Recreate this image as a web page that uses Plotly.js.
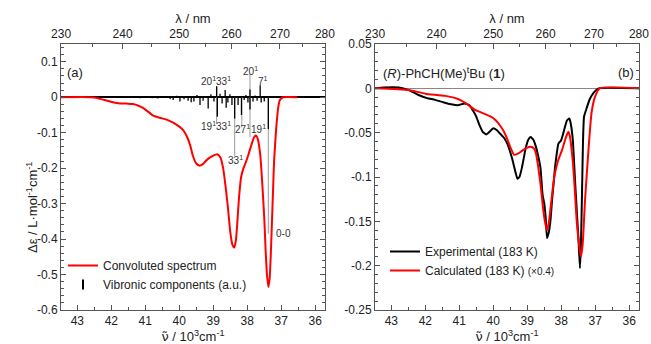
<!DOCTYPE html>
<html><head><meta charset="utf-8">
<script src="https://cdn.plot.ly/plotly-3.0.1.min.js"></script>
<style>body{margin:0;background:#fff}#chart{width:651px;height:344px}</style>
</head><body><div id="chart"></div>
<script>
// ---------- Panel (a): convoluted spectrum (wavenumber in 10^3 cm^-1) ----------
const convNu = [43.48,42.6,42.42,42.2,42.04,41.8,41.55,41.36,41.2,41.07,40.9,40.77,40.57,40.35,40.18,40.0,39.89,39.78,39.68,39.6,39.5,39.4,39.3,39.18,39.0,38.88,38.79,38.71,38.64,38.57,38.5,38.44,38.38,38.33,38.29,38.24,38.18,38.11,38.04,37.96,37.88,37.8,37.75,37.7,37.62,37.56,37.5,37.46,37.42,37.38,37.34,37.31,37.28,37.24,37.21,37.15,37.09,37.04,36.95,36.53];
const convVal = [0,0,-0.002,-0.008,-0.012,-0.017,-0.018,-0.019,-0.024,-0.03,-0.042,-0.052,-0.058,-0.064,-0.072,-0.083,-0.092,-0.11,-0.135,-0.165,-0.187,-0.193,-0.188,-0.176,-0.165,-0.161,-0.17,-0.2,-0.25,-0.31,-0.38,-0.415,-0.424,-0.4,-0.35,-0.28,-0.225,-0.2,-0.183,-0.16,-0.135,-0.113,-0.108,-0.115,-0.16,-0.24,-0.34,-0.43,-0.5,-0.535,-0.51,-0.45,-0.37,-0.26,-0.18,-0.09,-0.03,-0.008,0,0];

// vibronic stick components (a.u.)
const stickNu  = [41.16,40.95,40.80,40.63,40.42,40.27,40.18,40.07,39.98,39.86,39.74,39.65,39.57,39.48,39.39,39.30,39.15,39.07,38.98,38.90,38.88,38.80,38.74,38.65,38.62,38.57,38.51,38.45,38.37,38.27,38.17,38.09,38.04,37.98,37.92,37.92,37.83,37.77,37.71,37.62,37.59,37.50,37.38];
const stickVal = [-0.003,0.002,-0.003,-0.004,0.003,-0.005,-0.008,0.004,-0.012,-0.006,-0.010,-0.014,-0.012,0.006,-0.022,-0.010,-0.032,0.008,-0.012,0.031,-0.055,0.010,-0.018,0.020,-0.030,-0.015,0.008,-0.022,-0.060,-0.022,-0.050,-0.008,0.006,-0.015,0.022,-0.035,-0.012,0.005,-0.010,0.034,-0.015,-0.012,-0.090];

// grey leader lines to the band labels
const leaderNu     = [38.90, 38.37, 38.16, 37.92, 37.38];
const leaderTop    = [0.03, 0, 0, 0.066, 0];
const leaderBottom = [-0.075, -0.166, -0.085, -0.113, -0.385];

const bandLabels   = ['20<sup>1</sup>33<sup>1</sup>','19<sup>1</sup>33<sup>1</sup>','33<sup>1</sup>','27<sup>1</sup>','20<sup>1</sup>','19<sup>1</sup>','7<sup>1</sup>','0-0'];
const bandLabelNu  = [38.92, 38.92, 38.36, 38.13, 37.89, 37.66, 37.55, 36.92];
const bandLabelVal = [0.047, -0.081, -0.178, -0.089, 0.075, -0.089, 0.047, -0.385];

// ---------- Panel (b): experimental and calculated (x0.4) ----------
const expNu  = [43.48,43.22,42.78,42.49,42.2,41.95,41.71,41.45,41.24,41.04,40.84,40.7,40.6,40.51,40.4,40.31,40.21,40.11,40.0,39.9,39.78,39.68,39.58,39.5,39.44,39.35,39.29,39.23,39.16,39.1,39.05,38.97,38.9,38.82,38.76,38.68,38.61,38.55,38.5,38.46,38.42,38.37,38.32,38.27,38.22,38.18,38.08,38.01,37.95,37.88,37.83,37.76,37.72,37.66,37.59,37.54,37.49,37.45,37.42,37.39,37.36,37.33,37.25,37.16,37.05,36.9,35.71];
const expVal = [0,0.001,0.001,-0.002,-0.0075,-0.011,-0.013,-0.016,-0.018,-0.019,-0.017,-0.019,-0.025,-0.031,-0.042,-0.049,-0.052,-0.049,-0.045,-0.047,-0.052,-0.056,-0.063,-0.072,-0.08,-0.094,-0.102,-0.1,-0.09,-0.078,-0.068,-0.058,-0.055,-0.058,-0.064,-0.076,-0.09,-0.12,-0.13,-0.145,-0.169,-0.163,-0.15,-0.126,-0.105,-0.088,-0.062,-0.059,-0.052,-0.042,-0.036,-0.034,-0.04,-0.058,-0.107,-0.14,-0.172,-0.203,-0.175,-0.12,-0.06,-0.032,-0.022,-0.012,-0.005,0,0];

const calcNu  = [43.48,42.49,42.0,41.42,41.04,40.8,40.55,40.31,40.07,39.93,39.78,39.67,39.58,39.48,39.39,39.29,39.19,39.06,38.9,38.8,38.74,38.68,38.61,38.55,38.49,38.42,38.36,38.3,38.24,38.18,38.08,37.98,37.86,37.79,37.74,37.7,37.66,37.6,37.55,37.48,37.42,37.37,37.3,37.2,37.11,37.01,36.87,35.71];
const calcVal = [0,-0.002,-0.006,-0.0085,-0.012,-0.017,-0.024,-0.028,-0.032,-0.036,-0.043,-0.05,-0.058,-0.068,-0.075,-0.074,-0.0715,-0.068,-0.066,-0.068,-0.074,-0.088,-0.108,-0.13,-0.148,-0.16,-0.15,-0.13,-0.11,-0.095,-0.08,-0.07,-0.055,-0.049,-0.055,-0.068,-0.082,-0.115,-0.147,-0.175,-0.19,-0.176,-0.126,-0.07,-0.028,-0.01,0,0];

// ---------- ticks ----------
const nuTicks      = [43,42,41,40,39,38,37,36];
const nuMinorTicks = [43.5,42.5,41.5,40.5,39.5,38.5,37.5,36.5];
const lambdaTicks  = [230,240,250,260,270,280];
const lambdaMinor  = [235,245,255,265,275];
const yTicksA      = [0.1,0,-0.1,-0.2,-0.3,-0.4,-0.5,-0.6];
const yTicksB      = [0.05,0,-0.05,-0.1,-0.15,-0.2,-0.25];

// ---------- build ----------
const FONT = 'Liberation Sans, Arial, sans-serif';
const xRange = [1e4/230 + 0.002, 1e4/280 - 0.002];

const sx = [], sy = [];
stickNu.forEach((n,i)=>{ sx.push(n,n,null); sy.push(0,stickVal[i],null); });
const lx = [], ly = [];
leaderNu.forEach((n,i)=>{ lx.push(n,n,null); ly.push(leaderTop[i],leaderBottom[i],null); });

const traces = [
  {x:lx, y:ly, xaxis:'x', yaxis:'y', mode:'lines', line:{color:'#9a9a9a', width:1}, showlegend:false, hoverinfo:'skip'},
  {x:sx, y:sy, xaxis:'x', yaxis:'y', mode:'lines', line:{color:'#000', width:1.3}, showlegend:false, hoverinfo:'skip'},
  {x:convNu, y:convVal, xaxis:'x', yaxis:'y', mode:'lines', line:{color:'#ff0000', width:2, shape:'spline', smoothing:0.5}, name:'Convoluted spectrum', legend:'legend', legendrank:1},
  {x:[null], y:[null], xaxis:'x', yaxis:'y', mode:'markers', marker:{symbol:'line-ns-open', size:7, line:{width:2, color:'#000'}, color:'#000'}, name:'Vibronic components (a.u.)', legend:'legend', legendrank:2},
  {x:[null], y:[null], xaxis:'x2', yaxis:'y', mode:'lines', showlegend:false, hoverinfo:'skip'},
  {x:expNu, y:expVal, xaxis:'x3', yaxis:'y2', mode:'lines', line:{color:'#000', width:2, shape:'spline', smoothing:0.4}, name:'Experimental (183 K)', legend:'legend2', legendrank:1},
  {x:calcNu, y:calcVal, xaxis:'x3', yaxis:'y2', mode:'lines', line:{color:'#ff0000', width:2, shape:'spline', smoothing:0.5}, name:'Calculated (183 K) <span style="font-size:10px">(\u00d70.4)</span>', legend:'legend2', legendrank:2},
  {x:[null], y:[null], xaxis:'x4', yaxis:'y2', mode:'lines', showlegend:false, hoverinfo:'skip'}
];

const W = 651, H = 344;
const plotTop = 44, plotBot = 310;
const yDom = [1 - plotBot/H, 1 - plotTop/H];
const axBase = {
  showline:true, linecolor:'#555', linewidth:1, ticks:'inside', ticklen:5, tickwidth:1, tickcolor:'#555',
  showgrid:false, zeroline:false, tickfont:{family:FONT, size:12, color:'#222'}, ticklabeloverflow:'allow'
};
const nuTitle = '<span style="font-family:DejaVu Sans">\u03bd\u0303</span> / 10<sup>3</sup>cm<sup>-1</sup>';
function botX(domain, anchor){
  return Object.assign({}, axBase, {domain, anchor, range:xRange, tickmode:'array', tickvals:nuTicks, ticktext:nuTicks.map(String),
    minor:{tickmode:'array', tickvals:nuMinorTicks, ticks:'inside', ticklen:3, tickcolor:'#555'},
    title:{text:nuTitle, font:{family:FONT, size:13, color:'#222'}, standoff:2}});
}
function topX(over, anchor){
  return Object.assign({}, axBase, {overlaying:over, side:'top', anchor, range:xRange, tickmode:'array',
    tickvals:lambdaTicks.map(l=>1e4/l), ticktext:lambdaTicks.map(String),
    minor:{tickmode:'array', tickvals:lambdaMinor.map(l=>1e4/l), ticks:'inside', ticklen:3, tickcolor:'#555'},
    title:{text:'\u03bb / nm', font:{family:FONT, size:13, color:'#222'}, standoff:0}});
}
function yAx(domain, anchor, range, vals, minorD, zc, zw){
  return Object.assign({}, axBase, {domain, anchor, range, tickmode:'array', tickvals:vals, ticktext:vals.map(String), mirror:'ticks',
    minor:{dtick:minorD, tick0:0, ticks:'inside', ticklen:3, tickcolor:'#555'},
    zeroline:true, zerolinecolor:zc, zerolinewidth:zw});
}

const annFont = {family:FONT, size:10, color:'#333'};
const annotations = bandLabels.map((t,i)=>({text:t, x:bandLabelNu[i], y:bandLabelVal[i], xref:'x', yref:'y', showarrow:false, font:annFont}));
annotations.push(
  {text:'(a)', x:65/W, y:1-63/H, xref:'paper', yref:'paper', xanchor:'left', showarrow:false, font:{family:FONT, size:13, color:'#222'}},
  {text:'(b)', x:636/W, y:1-63/H, xref:'paper', yref:'paper', xanchor:'right', showarrow:false, font:{family:FONT, size:13, color:'#222'}},
  {text:'(<i>R</i>)-PhCH(Me)<sup>t</sup>Bu (<b>1</b>)', x:381/W, y:1-63/H, xref:'paper', yref:'paper', xanchor:'left', showarrow:false, font:{family:FONT, size:13, color:'#222'}},
  {text:'\u0394\u03b5 / L\u00b7mol<sup>-1</sup>cm<sup>-1</sup>', x:22/W, y:1-208/H, xref:'paper', yref:'paper', textangle:-90, showarrow:false, font:{family:FONT, size:13, color:'#222'}}
);

const layout = {
  width:W, height:H, margin:{l:0, r:0, t:0, b:0}, paper_bgcolor:'#fff', plot_bgcolor:'#fff',
  font:{family:FONT, size:12, color:'#222'},
  xaxis: botX([61/W, 325/W], 'y'),
  xaxis2: topX('x', 'y'),
  yaxis: yAx(yDom, 'x', [-0.6, 0.15], yTicksA, 0.02, '#000', 1.5),
  xaxis3: botX([375/W, 639/W], 'y2'),
  xaxis4: topX('x3', 'y2'),
  yaxis2: yAx(yDom, 'x3', [-0.25, 0.05], yTicksB, 0.01, '#888', 1),
  legend:{x:63/W, y:1-251/H, xanchor:'left', yanchor:'top', bgcolor:'rgba(0,0,0,0)', font:{family:FONT, size:12, color:'#222'}, tracegroupgap:0, itemwidth:30},
  legend2:{x:385/W, y:1-237/H, xanchor:'left', yanchor:'top', bgcolor:'rgba(0,0,0,0)', font:{family:FONT, size:12, color:'#222'}, tracegroupgap:0, itemwidth:30},
  annotations, showlegend:true
};
Plotly.newPlot('chart', traces, layout, {staticPlot:true, displayModeBar:false});
</script></body></html>
